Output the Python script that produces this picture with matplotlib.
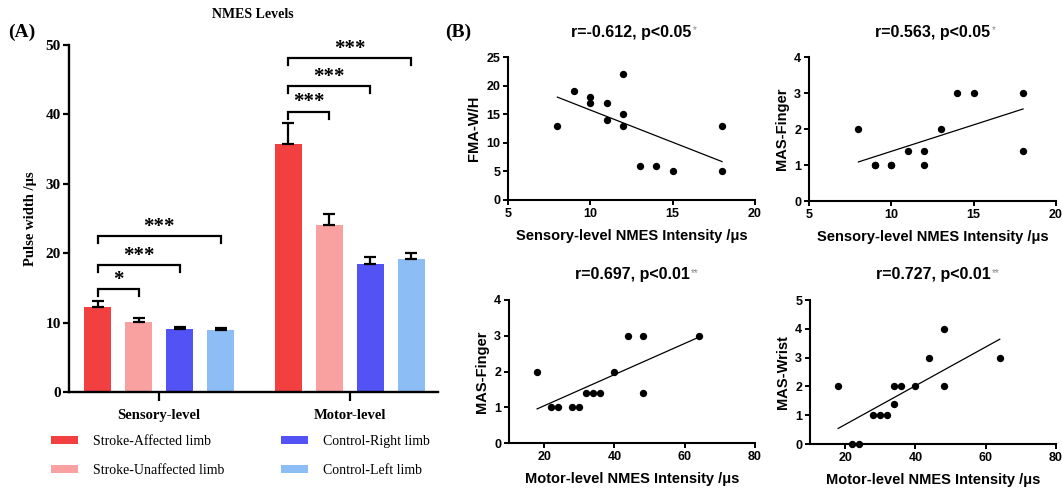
import numpy as np
import matplotlib.pyplot as plt
from matplotlib.patches import Patch

# ---- Panel A: pulse width by NMES level ----
levels = ['Sensory-level', 'Motor-level']
groups = ['Stroke-Affected limb', 'Stroke-Unaffected limb',
          'Control-Right limb', 'Control-Left limb']
group_colors = ['#F23F3F', '#F9A0A0', '#5252F5', '#8DBDF5']
sensory_mean = [12.3, 10.1, 9.1, 9.0]
sensory_err = [0.8, 0.5, 0.3, 0.2]
motor_mean = [35.7, 24.0, 18.4, 19.2]
motor_err = [3.1, 1.6, 1.0, 0.9]

# significance brackets: level index, compared group (vs. affected limb), height, label
sig_level = [0, 0, 0, 1, 1, 1]
sig_group = [1, 2, 3, 1, 2, 3]
sig_height = [14.8, 18.3, 22.5, 40.4, 44.1, 48.1]
sig_label = ['*', '***', '***', '***', '***', '***']

# ---- Panel B: correlations ----
sens_fma_x = [8, 9, 10, 10, 11, 11, 12, 12, 12, 13, 14, 15, 18, 18]
fma_wh = [13, 19, 18, 17, 17, 14, 22, 15, 13, 6, 6, 5, 13, 5]

sens_fin_x = [8, 9, 9, 10, 10, 11, 12, 12, 13, 14, 15, 18, 18]
mas_finger_s = [2, 1, 1, 1, 1, 1.4, 1.4, 1, 2, 3, 3, 3, 1.4]

mot_fin_x = [18, 22, 24, 28, 30, 32, 34, 36, 40, 44, 48, 48, 64]
mas_finger_m = [2, 1, 1, 1, 1, 1.4, 1.4, 1.4, 2, 3, 3, 1.4, 3]

mot_wri_x = [18, 22, 24, 28, 30, 32, 34, 34, 36, 40, 44, 48, 48, 64]
mas_wrist = [2, 0, 0, 1, 1, 1, 2, 1.4, 2, 2, 3, 4, 2, 3]

W, H = 1062, 490
fig = plt.figure(figsize=(W / 100, H / 100), dpi=100)


def box(l, t, r, b):
    return [l / W, 1 - b / H, (r - l) / W, (b - t) / H]


SERIF = 'Liberation Serif'
SANS = 'Liberation Sans'

# ================= Panel A =================
axA = fig.add_axes(box(69, 45, 438, 392))
bar_w = 0.67
motor_offset = 4.65
x_sens = np.arange(4, dtype=float)
x_mot = x_sens + motor_offset
for i in range(4):
    axA.bar(x_sens[i], sensory_mean[i], width=bar_w, color=group_colors[i])
    axA.bar(x_mot[i], motor_mean[i], width=bar_w, color=group_colors[i])
for xs, m, e in [(x_sens, sensory_mean, sensory_err), (x_mot, motor_mean, motor_err)]:
    axA.errorbar(xs, m, yerr=[np.zeros(4), e], fmt='none', ecolor='black',
                 elinewidth=1.6, capsize=4.5, capthick=1.6, zorder=3)

leg = 1.0
for lev, g, h, lab in zip(sig_level, sig_group, sig_height, sig_label):
    xs = x_sens if lev == 0 else x_mot
    x0, x1 = xs[0], xs[g]
    axA.plot([x0, x0, x1, x1], [h - leg, h, h, h - leg], color='black', lw=1.6,
             solid_joinstyle='miter', clip_on=False)
    axA.annotate(lab, xy=((x0 + x1) / 2, h), xytext=(0, 3.0), textcoords='offset points',
                 ha='center', va='baseline', fontsize=15, fontweight='bold', family=SERIF)

axA.set_xlim(-0.695, 8.30)
axA.set_ylim(0, 50)
axA.set_yticks([0, 10, 20, 30, 40, 50])
axA.set_xticks([x_sens.mean(), x_mot.mean()])
axA.set_xticklabels(levels)
for s in ['top', 'right']:
    axA.spines[s].set_visible(False)
for s in ['left', 'bottom']:
    axA.spines[s].set_linewidth(1.7)
axA.tick_params(axis='y', length=4, width=1.6, pad=2)
axA.tick_params(axis='x', length=6.5, width=1.6, pad=5.5)
for t in axA.get_yticklabels():
    t.set_fontfamily(SERIF); t.set_fontweight('bold'); t.set_fontsize(11)
for t in axA.get_xticklabels():
    t.set_fontfamily(SERIF); t.set_fontweight('bold'); t.set_fontsize(10.5)
axA.set_ylabel('Pulse width /μs', family=SERIF, fontweight='bold', fontsize=10.5, labelpad=6)

fig.text(253 / W, 1 - 15 / H, 'NMES Levels', ha='center', va='center',
         family=SERIF, fontweight='bold', fontsize=10)
fig.text(8 / W, 1 - 32 / H, '(A)', ha='left', va='center',
         family=SERIF, fontweight='bold', fontsize=14)

handles = [Patch(facecolor=c, edgecolor='none') for c in group_colors]
fig.legend(handles, groups, loc='upper left', bbox_to_anchor=(51 / W, 1 - 435 / H),
           ncol=2, frameon=False, borderpad=0, borderaxespad=0,
           prop={'family': SERIF, 'size': 10}, handlelength=1.95, handleheight=0.45,
           handletextpad=1.05, columnspacing=4.1, labelspacing=1.15)

# ================= Panel B =================
fig.text(445 / W, 1 - 32 / H, '(B)', ha='left', va='center',
         family=SERIF, fontweight='bold', fontsize=14)


def scatter_panel(rect, x, y, xlim, xticks, ylim, yticks, xlabel, ylabel, r_text, stars):
    ax = fig.add_axes(box(*rect))
    x = np.asarray(x, dtype=float)
    y = np.asarray(y, dtype=float)
    ax.scatter(x, y, s=28, color='black', zorder=3, clip_on=False, linewidths=0)
    k, c = np.polyfit(x, y, 1)
    xf = np.array([x.min(), x.max()])
    ax.plot(xf, k * xf + c, color='black', lw=0.9)
    ax.set_xlim(*xlim)
    ax.set_ylim(*ylim)
    ax.set_xticks(xticks)
    ax.set_yticks(yticks)
    for s in ['top', 'right']:
        ax.spines[s].set_visible(False)
    for s in ['left', 'bottom']:
        ax.spines[s].set_linewidth(1.5)
    ax.tick_params(length=3.6, width=1.4, pad=2)
    for t in ax.get_xticklabels() + ax.get_yticklabels():
        t.set_fontfamily(SANS); t.set_fontweight('bold'); t.set_fontsize(9)
    ax.set_xlabel(xlabel, family=SANS, fontweight='bold', fontsize=10.5, labelpad=6.5)
    ax.set_ylabel(ylabel, family=SANS, fontweight='bold', fontsize=10.5, labelpad=4)
    l, t, r, b = rect
    tt = fig.text((l + r) / 2 / W, 1 - (t - 25) / H, r_text, ha='center', va='center',
                  family=SANS, fontweight='bold', fontsize=11.5)
    ax.annotate(stars, xy=(1, 0.95), xycoords=tt, xytext=(1, 0), textcoords='offset points',
                ha='left', va='top', family=SANS, fontsize=7, color='#888888')
    return ax


scatter_panel((508, 57, 755, 200), sens_fma_x, fma_wh, (5, 20), [5, 10, 15, 20],
              (0, 25), [0, 5, 10, 15, 20, 25], 'Sensory-level NMES Intensity /μs',
              'FMA-W/H', 'r=-0.612, p<0.05', '*')
scatter_panel((809, 57, 1056, 201), sens_fin_x, mas_finger_s, (5, 20), [5, 10, 15, 20],
              (0, 4), [0, 1, 2, 3, 4], 'Sensory-level NMES Intensity /μs',
              'MAS-Finger', 'r=0.563, p<0.05', '*')
scatter_panel((509, 300, 755, 443), mot_fin_x, mas_finger_m, (10, 80), [20, 40, 60, 80],
              (0, 4), [0, 1, 2, 3, 4], 'Motor-level NMES Intensity /μs',
              'MAS-Finger', 'r=0.697, p<0.01', '**')
scatter_panel((810, 300, 1056, 444), mot_wri_x, mas_wrist, (10, 80), [20, 40, 60, 80],
              (0, 5), [0, 1, 2, 3, 4, 5], 'Motor-level NMES Intensity /μs',
              'MAS-Wrist', 'r=0.727, p<0.01', '**')

fig.savefig('out.png', dpi=100)
